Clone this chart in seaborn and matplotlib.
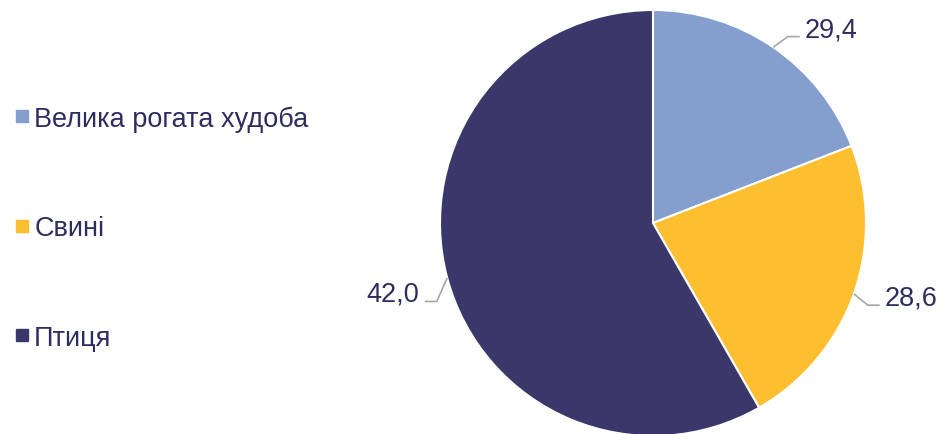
import numpy as np
import matplotlib
matplotlib.use("Agg")
import matplotlib.pyplot as plt
from matplotlib.lines import Line2D
import seaborn as sns

categories = ["Велика рогата худоба", "Свині", "Птиця"]
# slice sizes as drawn in the picture (share of the circle, %)
slice_sizes = [19.1, 22.6, 58.3]
# value labels printed next to the slices
value_labels = ["29,4", "28,6", "42,0"]
colors = ["#849FCE", "#FDBE2F", "#3A386A"]
text_color = "#2E2D5F"

sns.set_theme(style="white")
plt.rcParams["font.family"] = ["Liberation Sans", "DejaVu Sans"]

fig = plt.figure(figsize=(9.42, 4.35), dpi=100)
R = 213
cx, cy = 653, 224
ax = fig.add_axes([(cx - R) / 942, (435 - cy - R) / 435, 2 * R / 942, 2 * R / 435])
wedges, _ = ax.pie(slice_sizes, colors=colors, startangle=90, counterclock=False,
                   wedgeprops=dict(edgecolor="white", linewidth=1.5))
ax.set_xlim(-1, 1)
ax.set_ylim(-1, 1)
ax.set_aspect("equal")
ax.axis("off")

elbow_r = 1.08
elbow_dang = [-1.5, -1.5, 5.0]
for w, lab, dang in zip(wedges, value_labels, elbow_dang):
    mid = np.deg2rad((w.theta1 + w.theta2) / 2)
    x0, y0 = np.cos(mid), np.sin(mid)
    ea = mid + np.deg2rad(dang)
    ex, ey = elbow_r * np.cos(ea), elbow_r * np.sin(ea)
    side = 1 if x0 >= 0 else -1
    hx = ex + side * 0.056
    ax.plot([x0, ex, hx], [y0, ey, ey], color="#A6A6A6", lw=1.2,
            solid_capstyle="butt", clip_on=False)
    ax.text(hx + side * 0.025, ey + 0.035, lab, ha="left" if side > 0 else "right",
            va="center", fontsize=19.5, color=text_color, clip_on=False)

handles = [Line2D([0], [0], marker="s", linestyle="none", markersize=8,
                  markerfacecolor=c, markeredgecolor=c) for c in colors]
fig.legend(handles, categories, loc="center left", bbox_to_anchor=(0.017, 0.4736),
           frameon=False, fontsize=19.5, labelcolor=text_color, labelspacing=3.08,
           handlelength=0.45, handletextpad=0.22, borderpad=0, borderaxespad=0)

fig.savefig("out.png", dpi=100)
